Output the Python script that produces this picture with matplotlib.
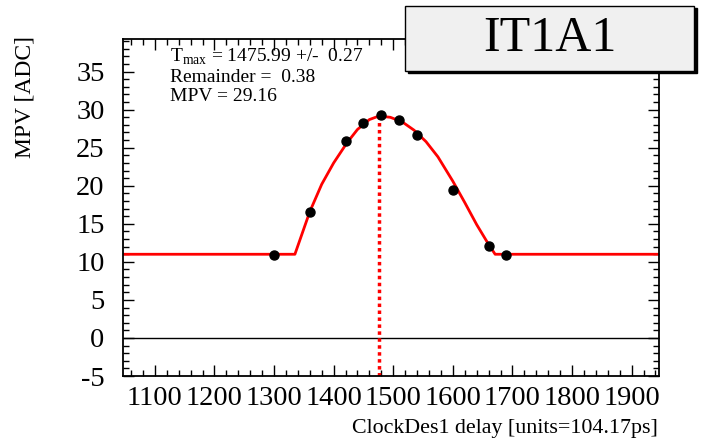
import matplotlib
matplotlib.use("Agg")
import matplotlib.pyplot as plt
from matplotlib.patches import Rectangle
from matplotlib.ticker import MultipleLocator

plt.rcParams['font.family'] = ['Liberation Serif', 'DejaVu Serif']
plt.rcParams['mathtext.fontset'] = 'custom'
plt.rcParams['mathtext.rm'] = 'Liberation Serif'
plt.rcParams['axes.unicode_minus'] = False

# measured points
delay = [1300, 1360, 1420, 1450, 1480, 1510, 1540, 1600, 1660, 1690]
mpv = [10.9, 16.6, 25.9, 28.2, 29.3, 28.7, 26.7, 19.5, 12.1, 10.9]

# fit curve
fit_x = [1046, 1335, 1360, 1380, 1400, 1422, 1440, 1460, 1476, 1495, 1515,
         1535, 1555, 1575, 1600, 1620, 1640, 1660, 1671, 1946]
fit_y = [11.0, 11.0, 16.6, 20.2, 23.0, 25.6, 27.4, 28.7, 29.16, 29.0, 28.4,
         27.3, 25.8, 23.8, 20.6, 17.8, 14.9, 12.3, 11.0, 11.0]

t_max = 1475.99
t_err = 0.27
remainder = 0.38
mpv_max = 29.16

W, H = 712, 443
fig = plt.figure(figsize=(W / 100, H / 100), dpi=100)
ax = fig.add_axes([0.1723, 0.1512, 0.7533, 0.761])

ax.axhline(0, color='black', lw=1.0, zorder=1)
ax.plot(fit_x, fit_y, color='red', lw=2.0, zorder=2)
ax.plot([t_max, t_max], [-5, mpv_max], color='red', lw=2.5,
        linestyle=(0, (1, 1)), zorder=2)
ax.plot(delay, mpv, 'o', color='black', ms=6.5, zorder=3)

ax.set_xlim(1046, 1946)
ax.set_ylim(-5, 39.3)
ax.xaxis.set_minor_locator(MultipleLocator(20))
ax.yaxis.set_minor_locator(MultipleLocator(1))
ax.set_xticks(range(1100, 2000, 100))
ax.set_yticks(range(-5, 40, 5))
ax.tick_params(which='both', direction='in', top=True, right=True,
               labelsize=20.5, width=1.0)
ax.tick_params(which='major', length=8)
ax.tick_params(axis='x', which='major', pad=7)
ax.tick_params(axis='y', which='major', pad=13)
ax.tick_params(which='minor', length=4)
for s in ax.spines.values():
    s.set_linewidth(1.3)

fig.text(658 / W, 1 - 428 / H, 'ClockDes1 delay [units=104.17ps]',
         fontsize=15.8, ha='right', va='center')
fig.text(25 / W, 1 - 97 / H, 'MPV [ADC]', fontsize=17, rotation=90,
         ha='center', va='center')

ax.text(0.088, 0.932, r'T$_{\rm max}$ = %.2f +/-  %.2f' % (t_max, t_err),
        transform=ax.transAxes, fontsize=14, va='baseline')
ax.text(0.088, 0.872, 'Remainder =  %.2f' % remainder,
        transform=ax.transAxes, fontsize=14, va='baseline')
ax.text(0.088, 0.816, 'MPV = %.2f' % mpv_max,
        transform=ax.transAxes, fontsize=14, va='baseline')

# title box with shadow
fig.patches.append(Rectangle((408 / W, 1 - 73 / H), 289 / W, 65 / H,
                             transform=fig.transFigure, facecolor='black',
                             edgecolor='black', zorder=5))
fig.patches.append(Rectangle((405 / W, 1 - 71 / H), 289 / W, 65 / H,
                             transform=fig.transFigure, facecolor='#f0f0f0',
                             edgecolor='black', lw=1.0, zorder=6))
fig.text(550 / W, 1 - 39 / H, 'IT1A1', fontsize=36, ha='center', va='center', zorder=7)

fig.savefig('out.png', dpi=100)
